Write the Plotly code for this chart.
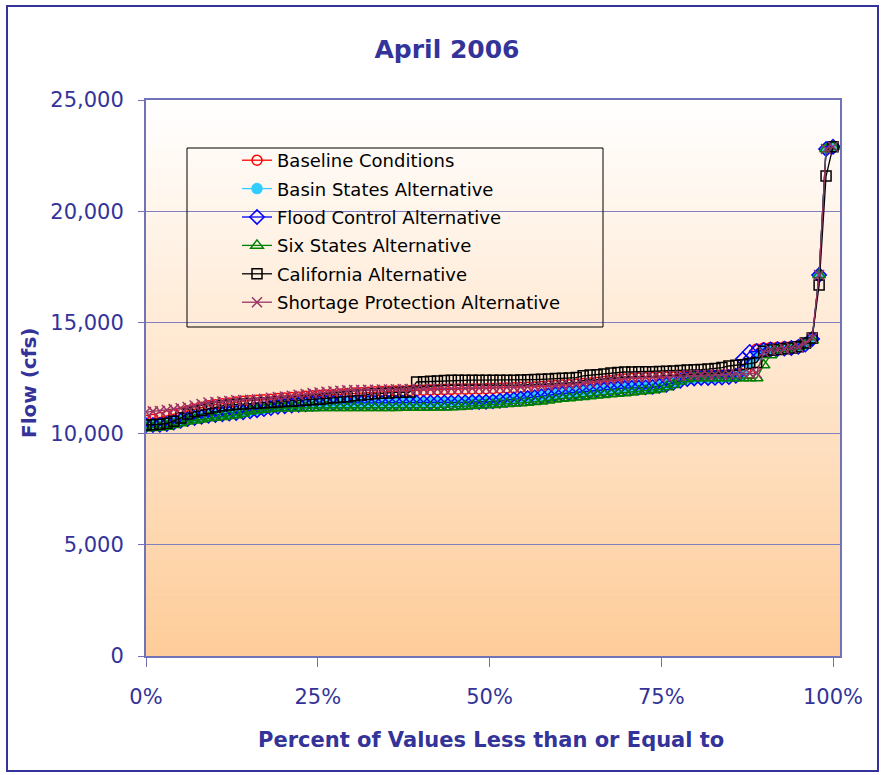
import plotly.graph_objects as go

# ---------------- data ----------------
n_points = 100
pct = [i / (n_points - 1) for i in range(n_points)]

baseline = [
    10600, 10650, 10720, 10800, 10880, 10950, 11030, 11100, 11180, 11250,
    11300, 11340, 11380, 11420, 11450, 11480, 11500, 11520, 11550, 11580,
    11600, 11620, 11650, 11680, 11700, 11720, 11740, 11760, 11780, 11800,
    11820, 11840, 11860, 11880, 11890, 11900, 11910, 11920, 11930, 11940,
    11950, 11960, 11970, 11980, 11990, 12000, 12000, 12010, 12010, 12020,
    12030, 12040, 12050, 12060, 12070, 12080, 12100, 12120, 12140, 12160,
    12180, 12200, 12220, 12250, 12280, 12300, 12340, 12380, 12420, 12460,
    12480, 12500, 12510, 12520, 12530, 12540, 12550, 12560, 12570, 12580,
    12590, 12600, 12610, 12620, 12640, 12660, 12680, 12700, 13800, 13850,
    13870, 13880, 13900, 13920, 13950, 14050, 14280, 17130, 22800, 22900,
]
basin_states = [
    10390, 10400, 10410, 10440, 10510, 10590, 10660, 10710, 10770, 10810,
    10850, 10880, 10910, 10940, 10970, 11010, 11060, 11110, 11160, 11210,
    11240, 11270, 11300, 11330, 11350, 11370, 11380, 11390, 11390, 11390,
    11390, 11390, 11390, 11390, 11390, 11390, 11400, 11400, 11400, 11400,
    11400, 11410, 11410, 11410, 11420, 11420, 11430, 11440, 11450, 11460,
    11480, 11510, 11540, 11570, 11600, 11630, 11670, 11710, 11750, 11790,
    11820, 11850, 11880, 11910, 11940, 11970, 11990, 12010, 12040, 12060,
    12070, 12080, 12090, 12110, 12160, 12210, 12290, 12390, 12450, 12480,
    12500, 12500, 12510, 12520, 12540, 12580, 12650, 13170, 13500, 13760,
    13780, 13800, 13820, 13850, 13900, 14000, 14250, 17130, 22800, 22900,
]
flood_control = [
    10380, 10390, 10400, 10430, 10500, 10580, 10650, 10700, 10760, 10800,
    10840, 10870, 10900, 10930, 10960, 11000, 11050, 11100, 11150, 11200,
    11230, 11260, 11290, 11320, 11340, 11360, 11370, 11380, 11380, 11380,
    11380, 11380, 11380, 11380, 11380, 11380, 11390, 11390, 11390, 11390,
    11390, 11400, 11400, 11400, 11400, 11410, 11410, 11420, 11420, 11430,
    11450, 11480, 11510, 11540, 11570, 11600, 11640, 11680, 11720, 11770,
    11800, 11830, 11860, 11890, 11920, 11950, 11980, 12000, 12030, 12050,
    12060, 12070, 12080, 12100, 12150, 12200, 12280, 12380, 12450, 12480,
    12500, 12500, 12510, 12520, 12540, 12600, 13350, 13670, 13700, 13760,
    13780, 13800, 13820, 13850, 13900, 14000, 14250, 17130, 22800, 22900,
]
six_states = [
    10250, 10260, 10280, 10320, 10400, 10480, 10560, 10600, 10650, 10700,
    10720, 10760, 10800, 10840, 10900, 11000, 11050, 11080, 11120, 11150,
    11150, 11150, 11150, 11150, 11150, 11160, 11160, 11160, 11160, 11160,
    11160, 11160, 11160, 11160, 11160, 11160, 11160, 11170, 11170, 11170,
    11170, 11180, 11180, 11190, 11200, 11210, 11230, 11250, 11270, 11290,
    11300, 11320, 11340, 11360, 11380, 11400, 11430, 11460, 11500, 11550,
    11580, 11600, 11630, 11660, 11690, 11720, 11750, 11780, 11800, 11830,
    11860, 11900, 11930, 11960, 12000, 12100, 12200, 12350, 12450, 12500,
    12500, 12500, 12500, 12500, 12500, 12500, 12500, 12500, 12500, 13080,
    13530, 13760, 13810, 13850, 13900, 14000, 14200, 17130, 22800, 22900,
]
california = [
    10390, 10400, 10420, 10460, 10560, 10700, 10880, 10980, 11050, 11120,
    11200, 11250, 11290, 11320, 11330, 11350, 11370, 11390, 11400, 11420,
    11440, 11460, 11480, 11500, 11520, 11550, 11580, 11610, 11640, 11660,
    11700, 11730, 11760, 11790, 11810, 11830, 11850, 11860, 11870, 12320,
    12330, 12350, 12370, 12390, 12400, 12400, 12400, 12400, 12400, 12400,
    12400, 12400, 12400, 12400, 12410, 12420, 12430, 12440, 12460, 12480,
    12490, 12500, 12520, 12600, 12630, 12650, 12680, 12720, 12750, 12770,
    12770, 12780, 12780, 12780, 12790, 12800, 12820, 12840, 12860, 12870,
    12880, 12900, 12930, 12970, 13040, 13070, 13100, 13150, 13200, 13700,
    13760, 13780, 13820, 13850, 13900, 14070, 14300, 16680, 21580, 22900,
]
shortage_protection = [
    10970, 11000, 11020, 11060, 11100, 11140, 11200, 11260, 11330, 11400,
    11420, 11440, 11470, 11500, 11510, 11520, 11540, 11570, 11610, 11640,
    11670, 11700, 11740, 11780, 11820, 11850, 11880, 11900, 11930, 11950,
    11960, 11960, 11970, 11970, 11980, 11980, 11990, 12000, 12000, 12000,
    12010, 12010, 12020, 12020, 12030, 12030, 12040, 12040, 12050, 12050,
    12060, 12070, 12080, 12090, 12100, 12110, 12120, 12140, 12160, 12180,
    12190, 12200, 12230, 12260, 12300, 12340, 12380, 12420, 12460, 12500,
    12510, 12520, 12530, 12545, 12560, 12580, 12600, 12610, 12620, 12630,
    12640, 12650, 12660, 12670, 12680, 12690, 12700, 12710, 12720, 13670,
    13760, 13780, 13810, 13850, 13900, 14070, 14300, 17130, 22800, 22900,
]

series_names = [
    "Baseline Conditions",
    "Basin States Alternative",
    "Flood Control Alternative",
    "Six States Alternative",
    "California Alternative",
    "Shortage Protection Alternative",
]
series_values = [baseline, basin_states, flood_control, six_states,
                 california, shortage_protection]

y_tick_vals = [0, 5000, 10000, 15000, 20000, 25000]
x_tick_vals = [0, 0.25, 0.5, 0.75, 1.0]

title_text = "April 2006"
x_title = "Percent of Values Less than or Equal to"
y_title = "Flow (cfs)"

# ---------------- styles ----------------
styles = [
    dict(color="#FF0000", symbol="circle-open", size=10),
    dict(color="#33CCFF", symbol="circle", size=10),
    dict(color="#0000FF", symbol="diamond-open", size=11),
    dict(color="#008000", symbol="triangle-up-open", size=11),
    dict(color="#000000", symbol="square-open", size=10),
    dict(color="#993366", symbol="x-thin-open", size=10),
]

NAVY = "#333399"
AXIS_COL = "#7272B8"
GRID_COL = "#8080C0"
FONT = "DejaVu Sans, Verdana, sans-serif"

fig = go.Figure()
for i, (name, vals, st) in enumerate(zip(series_names, series_values, styles)):
    fig.add_trace(go.Scatter(
        x=pct, y=vals, name=name, mode="lines+markers",
        legendgroup=f"g{i}",
        line=dict(color=st["color"], width=1.3),
        marker=dict(symbol=st["symbol"], size=st["size"], color=st["color"],
                    line=dict(color=st["color"], width=1.5)),
    ))

# plot geometry (pixels)
W, H = 881, 775
L, R, T, B = 146, 41, 100, 119
pw, ph = W - L - R, H - T - B


def px_x(px):
    return (px - L) / pw


def px_y(py):
    return (H - B - py) / ph


shapes = []
# gradient background of the plot area
nb = 90
top = (255, 255, 255)
bot = (254, 204, 153)
for k in range(nb):
    f = (k + 0.5) / nb
    c = tuple(round(top[j] + (bot[j] - top[j]) * f) for j in range(3))
    shapes.append(dict(type="rect", xref="x domain", yref="y domain",
                       x0=0, x1=1, y0=1 - (k + 1) / nb - 0.001, y1=1 - k / nb,
                       fillcolor=f"rgb{c}", line=dict(width=0), layer="below"))
# legend box
shapes.append(dict(type="rect", xref="paper", yref="paper",
                   x0=px_x(187), x1=px_x(603), y0=px_y(327), y1=px_y(148),
                   line=dict(color="#000000", width=1), fillcolor="rgba(0,0,0,0)",
                   layer="above"))
# outer frame
shapes.append(dict(type="rect", xref="paper", yref="paper",
                   x0=px_x(7), x1=px_x(878), y0=px_y(771), y1=px_y(6),
                   line=dict(color=NAVY, width=2), fillcolor="rgba(0,0,0,0)",
                   layer="below"))

fig.update_layout(
    width=W, height=H,
    margin=dict(l=L, r=R, t=T, b=B, autoexpand=False),
    paper_bgcolor="#FFFFFF",
    plot_bgcolor="rgba(0,0,0,0)",
    font=dict(family=FONT, color=NAVY),
    title=dict(text=f"<b>{title_text}</b>", x=447 / W, xref="container",
               xanchor="center", y=1 - 49 / H, yref="container", yanchor="middle",
               font=dict(size=25, color=NAVY, family=FONT)),
    shapes=shapes,
    showlegend=True,
    legend=dict(x=px_x(237), y=px_y(142), xanchor="left", yanchor="top",
                bgcolor="rgba(0,0,0,0)", borderwidth=0,
                font=dict(size=18, color="#000000", family=FONT),
                tracegroupgap=2, itemclick=False),
    annotations=[
        dict(text=f"<b>{x_title}</b>", xref="paper", yref="paper",
             x=px_x(491), y=px_y(740), xanchor="center", yanchor="middle",
             showarrow=False,
             font=dict(size=21, color=NAVY, family=FONT)),
        dict(text=f"<b>{y_title}</b>", xref="paper", yref="paper",
             x=px_x(29), y=px_y(383), xanchor="center", yanchor="middle",
             showarrow=False, textangle=-90,
             font=dict(size=20, color=NAVY, family=FONT)),
    ],
)

fig.update_xaxes(
    range=[0, (840 - L) / (833 - L)],
    tickvals=x_tick_vals, tickformat=".0%",
    showgrid=False, zeroline=False,
    showline=True, linecolor=AXIS_COL, linewidth=2, mirror=True,
    ticks="outside", ticklen=9, tickcolor=AXIS_COL, tickwidth=1,
    ticklabelstandoff=12,
    tickfont=dict(size=21, color=NAVY, family=FONT),
)
fig.update_yaxes(
    range=[0, 25000],
    tickvals=y_tick_vals, tickformat=",d",
    showgrid=True, gridcolor=GRID_COL, gridwidth=1, zeroline=False,
    showline=True, linecolor=AXIS_COL, linewidth=2, mirror=True,
    ticks="outside", ticklen=6, tickcolor=AXIS_COL, tickwidth=1,
    ticklabelstandoff=10,
    tickfont=dict(size=21, color=NAVY, family=FONT),
)

fig.write_html("out.html",
               config={"displayModeBar": False},
               post_script="document.body.style.margin='0';"
                           "document.body.style.overflow='hidden';")
